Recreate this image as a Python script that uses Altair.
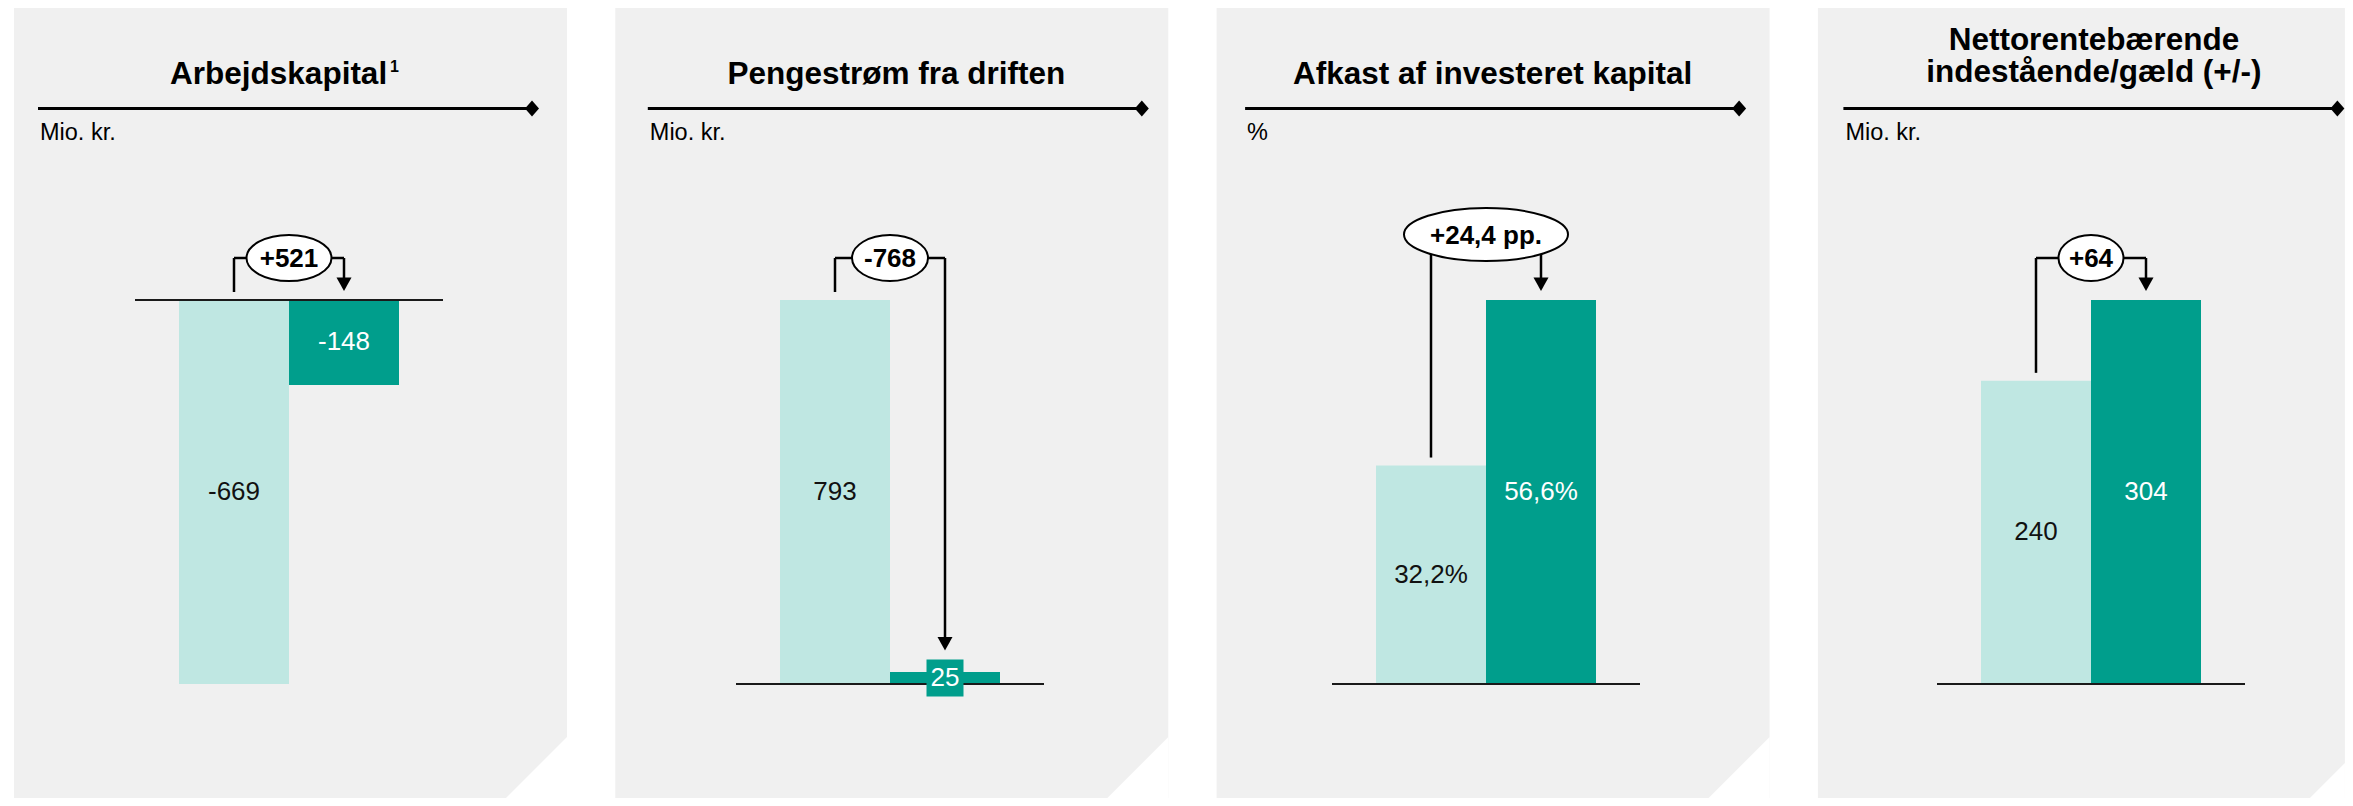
import altair as alt
import pandas as pd

# ---------------- data ----------------
categories = ["Forrige år", "Året"]
roles = ["prev", "curr"]
titles = [
    ["Arbejdskapital"],
    ["Pengestrøm fra driften"],
    ["Afkast af investeret kapital"],
    ["Nettorentebærende", "indestående/gæld (+/-)"],
]
title_notes = ["1", "", "", ""]
units = ["Mio. kr.", "Mio. kr.", "%", "Mio. kr."]
arbejdskapital = [-669, -148]
pengestroem = [793, 25]
afkast = [32.2, 56.6]
nettorente = [240, 304]
series = [arbejdskapital, pengestroem, afkast, nettorente]
decimals = [0, 0, 1, 0]
value_suffix = ["", "", "%", ""]
delta_suffix = ["", "", " pp.", ""]

# ---------------- style / layout ----------------
FONT = "Liberation Sans"
LIGHT = "#BFE7E2"
DARK = "#009E8C"
PANEL_BG = "#F0F0F0"
panel_w = [553, 553, 553, 527]
PANEL_H, GAP = 790, 48.3
DIAG = 1282                      # x + y of the cut-corner diagonal (panel coords)
Y_TOP, Y_BOT = 292, 676          # pixel range of the y scales
group_center = [275, 274.7, 269.4, 273.1]
deco_shift = [0, 8.5, 4.5, 1.5]
title_x = [264.6, 281, 276, 276]
title_y = [76, 76, 76, 41.5]
note_x = [376, 0, 0, 0]
ann_y = [250, 250, 226.5, 250]
ellipse_wh = [(85, 46), (76, 46), (164, 53), (65, 46)]
BOX = 37
TITLE_FS = 31.5


def fmt(v, d):
    return f"{v:.{d}f}".replace(".", ",")


def ellipse_path(r):
    k = 0.5523
    return (f"M-1,0 C-1,{-k*r:.4f} {-k:.4f},{-r:.4f} 0,{-r:.4f} "
            f"C{k:.4f},{-r:.4f} 1,{-k*r:.4f} 1,0 "
            f"C1,{k*r:.4f} {k:.4f},{r:.4f} 0,{r:.4f} "
            f"C{-k:.4f},{r:.4f} -1,{k*r:.4f} -1,0 Z")


TRI = "M-1,-1.8 L1,-1.8 L0,0 Z"
DIAMOND = "M0,-1 L0.875,0 L0,1 L-0.875,0 Z"
CORNER = "M0,-1 L0,0 L-1,0 Z"


def make_panel(i):
    vals = series[i]
    vmin, vmax = min(0, min(vals)), max(0, max(vals))
    ppu = (Y_BOT - Y_TOP) / (vmax - vmin)
    labels = [fmt(v, decimals[i]) + value_suffix[i] for v in vals]
    df = pd.DataFrame({"cat": categories, "role": roles, "value": vals, "label": labels})
    df["zero"] = 0.0
    df["mid"] = df["value"] / 2
    df["top"] = df["value"].clip(lower=0)
    box_top = df["mid"] + (BOX / 2) / ppu
    df["tip"] = [max(t, b) for t, b in zip(df["top"], box_top)]
    prev = df[df.role == "prev"]
    curr = df[df.role == "curr"]

    d = vals[1] - vals[0]
    delta = ("+" if d > 0 else "") + fmt(d, decimals[i]) + delta_suffix[i]
    dd = pd.DataFrame({"delta": [delta]})
    one = pd.DataFrame({"k": [0]})

    W = panel_w[i]
    gc = group_center[i]
    sh = deco_shift[i]
    ann = ann_y[i]
    ew, eh = ellipse_wh[i]
    leg = W + PANEL_H - DIAG

    xs = alt.X("cat:N", sort=categories,
               scale=alt.Scale(type="band", domain=categories, range=[gc - 110, gc + 110],
                               paddingInner=0, paddingOuter=0),
               axis=None)
    ys = alt.Scale(domain=[vmin, vmax], range=[Y_BOT, Y_TOP], zero=False, nice=False)

    def yenc(f):
        return alt.Y(f, type="quantitative", scale=ys, axis=None)

    bars = alt.Chart(df).mark_bar().encode(
        x=xs, y=yenc("value"), y2=alt.Y2("zero"),
        color=alt.Color("role:N", scale=alt.Scale(domain=roles, range=[LIGHT, DARK]), legend=None),
    )
    baseline = alt.Chart(df.head(1)).mark_rule(color="#1a1a1a", strokeWidth=2).encode(
        x=alt.value(gc - 154), x2=alt.value(gc + 154), y=yenc("zero"),
    )
    box = alt.Chart(curr).mark_point(shape="square", size=BOX * BOX, filled=True, color=DARK,
                                      opacity=1, strokeWidth=0).encode(x=xs, y=yenc("mid"))
    lab = alt.Chart(df).mark_text(font=FONT, fontSize=26, baseline="middle").encode(
        x=xs, y=yenc("mid"), text="label:N",
        color=alt.condition("datum.role == 'curr'", alt.value("white"), alt.value("#111111")),
    )
    lv = alt.Chart(prev).mark_rule(color="black", strokeWidth=2.5, yOffset=-8).encode(
        x=xs, y=yenc("top"), y2=alt.value(ann))
    hz = alt.Chart(df).mark_line(color="black", strokeWidth=2.5).encode(x=xs, y=alt.value(ann))
    rv = alt.Chart(curr).mark_rule(color="black", strokeWidth=2.5, yOffset=-20).encode(
        x=xs, y=yenc("tip"), y2=alt.value(ann))
    arrow = alt.Chart(curr).mark_point(shape=TRI, size=225, filled=True, color="black",
                                        opacity=1, strokeWidth=0, yOffset=-9).encode(
        x=xs, y=yenc("tip"))
    ell = alt.Chart(dd).mark_point(shape=ellipse_path(eh / ew), size=ew * ew, filled=True,
                                   fill="white", stroke="black", strokeWidth=2, opacity=1).encode(
        x=alt.value(gc), y=alt.value(ann))
    dtext = alt.Chart(dd).mark_text(font=FONT, fontSize=26, fontWeight="bold", baseline="middle",
                                    color="black").encode(
        x=alt.value(gc), y=alt.value(ann + 1), text="delta:N")

    title = alt.Chart(one).mark_text(font=FONT, fontSize=TITLE_FS, fontWeight="bold", align="center",
                                     baseline="alphabetic", lineHeight=32, color="black",
                                     text=titles[i]).encode(
        x=alt.value(title_x[i]), y=alt.value(title_y[i]))
    layers = [title]
    if title_notes[i]:
        note = alt.Chart(one).mark_text(font=FONT, fontSize=16, fontWeight="bold", align="left",
                                        baseline="alphabetic", color="black",
                                        text=title_notes[i]).encode(
            x=alt.value(note_x[i]), y=alt.value(64))
        layers.append(note)
    tline = alt.Chart(one).mark_rule(color="black", strokeWidth=3).encode(
        x=alt.value(24 + sh), x2=alt.value(518 + sh), y=alt.value(100.5))
    diamond = alt.Chart(one).mark_point(shape=DIAMOND, size=256, filled=True, color="black",
                                        opacity=1, strokeWidth=0).encode(
        x=alt.value(518 + sh), y=alt.value(100.5))
    unit = alt.Chart(one).mark_text(font=FONT, fontSize=23.5, align="left", baseline="alphabetic",
                                    color="black", text=units[i]).encode(
        x=alt.value(26 + sh), y=alt.value(132))
    corner = alt.Chart(one).mark_point(shape=CORNER, size=(2 * leg) ** 2, filled=True, color="white",
                                       opacity=1, strokeWidth=0).encode(
        x=alt.value(W), y=alt.value(PANEL_H))

    layers += [tline, diamond, unit, bars, baseline, box, lab, lv, hz, rv, arrow, ell, dtext, corner]
    return alt.layer(*layers).properties(width=W, height=PANEL_H)


panels = [make_panel(i) for i in range(4)]

chart = alt.hconcat(*panels, spacing=GAP).properties(
    padding={"left": 6, "top": 0, "right": 0, "bottom": 0},
    bounds="flush",
).configure(background="white").configure_view(fill=PANEL_BG, strokeWidth=0)

chart.save("out.html", embed_options={"renderer": "svg", "actions": False})
